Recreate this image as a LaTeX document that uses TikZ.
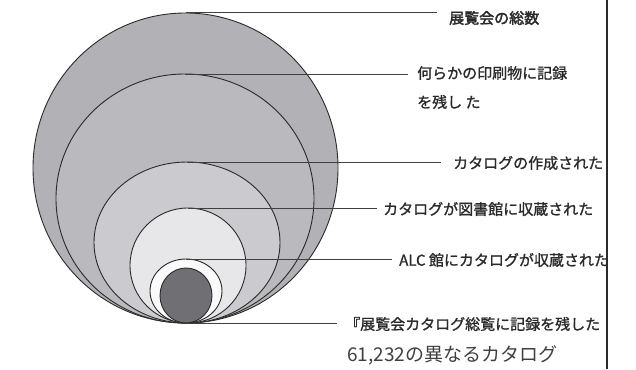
\documentclass[tikz,border=0pt]{standalone}
\usepackage{fontspec}
\setmainfont{Noto Sans CJK JP}
\newfontfamily\lblfont[FakeBold=1.2]{Noto Sans CJK JP}
\newfontfamily\headfont[FakeBold=2.2]{Noto Sans CJK JP}
\usetikzlibrary{shapes.geometric}
\definecolor{cA}{HTML}{B2B2B6}
\definecolor{cB}{HTML}{BABABE}
\definecolor{cC}{HTML}{CBCBCF}
\definecolor{cD}{HTML}{E7E7E9}
\definecolor{cE}{HTML}{FAFAFA}
\definecolor{cF}{HTML}{707074}
\definecolor{ink}{HTML}{2A2A2A}
\begin{document}
\begin{tikzpicture}[x=1pt,y=-1pt,
  ring/.style={ellipse, draw=ink, line width=0.9pt, inner sep=0pt, outer sep=0pt},
  leader/.style={draw=ink!90, line width=1pt},
  lbl/.style={anchor=west, inner sep=0pt, font=\lblfont\fontsize{15}{18}\selectfont, text=ink},
  head/.style={lbl, font=\headfont\fontsize{15}{18}\selectfont},
  big/.style={anchor=west, inner sep=0pt, font=\fontsize{19}{22}\selectfont, text=ink!90},
]
\useasboundingbox (0,0) rectangle (636,369);
% nested ellipses, all touching at the bottom
\node[ring, fill=cA, minimum width=305pt, minimum height=310pt] (e1) at (185.5,168) {};
\node[ring, fill=cB, minimum width=258pt, minimum height=249pt] (e2) at (185,198.5) {};
\node[ring, fill=cC, minimum width=186pt, minimum height=161pt] (e3) at (187,242.5) {};
\node[ring, fill=cD, minimum width=116pt, minimum height=115pt] (e4) at (188,265.5) {};
\node[ring, fill=cE, minimum width=72pt, minimum height=64pt] (e5) at (186,291) {};
\node[ring, fill=cF, minimum width=52pt, minimum height=55pt] (e6) at (186,295.5) {};
% labels
\node[head] (l1) at (449,18) {展覧会の総数};
\node[lbl] (l2) at (417,73) {何らかの印刷物に記録};
\node[lbl] (l2b) at (417,102) {を残し た};
\node[lbl] (l3) at (453,163) {カタログの作成された};
\node[lbl] (l4) at (383,209) {カタログが図書館に収蔵された};
\begin{scope}
\clip (0,0) rectangle (607,369);
\node[lbl] (l5) at (399,260) {ALC 館にカタログが収蔵された};
\end{scope}
\node[lbl] (l6) at (345,324) {『展覧会カタログ総覧に記録を残した};
\node[big] (l7) at (347,355) {61,232の異なるカタログ};
% leader end points
\coordinate (t1) at (437,13);
\coordinate (t2) at (408,74);
\coordinate (t3) at (441,162);
\coordinate (t4) at (377,208);
\coordinate (t5) at (392,259);
\coordinate (t6) at (337,323);
\draw[leader] (e1.north) -- (t1);
\draw[leader] (e2.north) -- (t2);
\draw[leader] (e3.north) -- (t3);
\draw[leader] (e4.north) -- (t4);
\draw[leader] (e5.north) -- (t5);
\draw[leader] (e6.south) -- (t6);
% right border
\coordinate (v1) at (607,0);
\coordinate (v2) at (607,369);
\draw[draw=ink, line width=2pt] (v1) -- (v2);
\end{tikzpicture}
\end{document}
